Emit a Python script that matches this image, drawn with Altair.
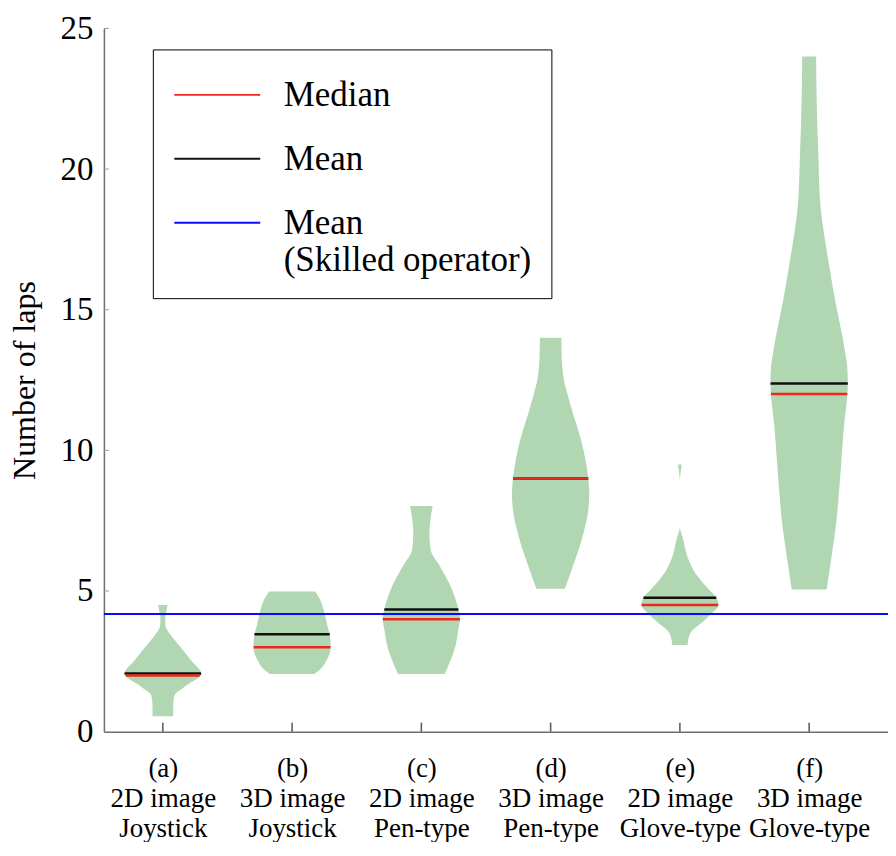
import json
import numpy as np
import pandas as pd
import altair as alt

# ---------------- data ----------------
CATEGORIES = [
    "(a)\n2D image\nJoystick",
    "(b)\n3D image\nJoystick",
    "(c)\n2D image\nPen-type",
    "(d)\n3D image\nPen-type",
    "(e)\n2D image\nGlove-type",
    "(f)\n3D image\nGlove-type",
]
MEDIANS = [2.0, 3.0, 4.0, 9.0, 4.5, 12.0]
MEANS = [2.07, 3.46, 4.34, 9.0, 4.76, 12.38]
SKILLED_MEAN = 4.18

# violin profiles: level (number of laps) and half-width (density, in category units)
A_LEVELS = [0.55, 0.9, 1.2, 1.35, 1.5, 1.7, 2.05, 2.5, 2.98, 3.45, 3.8, 4.05, 4.3, 4.5]
A_WIDTHS = [0.080, 0.080, 0.085, 0.097, 0.140, 0.201, 0.299, 0.224, 0.141, 0.058, 0.019, 0.019, 0.028, 0.037]
B_LEVELS = [2.05, 2.2, 2.52, 3.03, 3.47, 3.68, 4.27, 4.7, 4.98]
B_WIDTHS = [0.172, 0.215, 0.265, 0.299, 0.291, 0.278, 0.247, 0.216, 0.178]
C_LEVELS = [2.05, 2.4, 2.98, 3.57, 4.03, 4.35, 4.73, 5.3, 5.9, 6.48, 7.06, 7.6, 8.02]
C_WIDTHS = [0.180, 0.213, 0.260, 0.284, 0.299, 0.286, 0.263, 0.213, 0.141, 0.071, 0.062, 0.072, 0.087]
D_LEVELS = [5.08, 5.66, 6.82, 7.99, 8.5, 9.04, 10.32, 11.5, 12.66, 13.3, 14.0]
D_WIDTHS = [0.110, 0.155, 0.240, 0.294, 0.299, 0.290, 0.238, 0.161, 0.097, 0.086, 0.083]
E_LEVELS = [3.08, 3.3, 3.57, 3.92, 4.2, 4.52, 4.77, 5.08, 5.66, 6.25, 6.83, 7.3, 8.85, 9.5]
E_WIDTHS = [0.060, 0.066, 0.090, 0.180, 0.245, 0.299, 0.281, 0.219, 0.116, 0.056, 0.026, 0.0, 0.0, 0.015]
F_LEVELS = [5.05, 6.25, 7.41, 8.58, 9.75, 10.9, 12.03, 12.4, 13.0, 13.5, 14.2, 15.2, 16.4, 17.55, 18.72, 20.5, 22.5, 24.0]
F_WIDTHS = [0.135, 0.174, 0.209, 0.232, 0.251, 0.270, 0.296, 0.299, 0.294, 0.278, 0.251, 0.206, 0.161, 0.120, 0.087, 0.071, 0.058, 0.054]

PROFILES = [(A_LEVELS, A_WIDTHS), (B_LEVELS, B_WIDTHS), (C_LEVELS, C_WIDTHS),
            (D_LEVELS, D_WIDTHS), (E_LEVELS, E_WIDTHS), (F_LEVELS, F_WIDTHS)]

KINDS = ["Median", "Mean", "Mean (Skilled operator)"]
KIND_COLORS = ["#ec2a1c", "#111111", "#0a0aff"]
Y_TICKS = [0, 5, 10, 15, 20, 25]

FONT = "Liberation Serif"

# ---------------- tables ----------------
vrows = []
for i, (lv, wd) in enumerate(PROFILES):
    c = i + 1
    for l, w in zip(lv, wd):
        vrows.append({"cat": CATEGORIES[i], "level": l, "left": c - w, "right": c + w})
violin_df = pd.DataFrame(vrows)

def stat_rows(values, kind):
    rows = []
    for i, v in enumerate(values):
        lv, wd = PROFILES[i]
        w = float(np.interp(v, lv, wd))
        rows.append({"kind": kind, "level": v, "left": i + 1 - w, "right": i + 1 + w})
    return pd.DataFrame(rows)

mean_df = stat_rows(MEANS, "Mean")
median_df = stat_rows(MEDIANS, "Median")
skilled_df = pd.DataFrame({"kind": ["Mean (Skilled operator)"], "level": [SKILLED_MEAN]})
xtick_df = pd.DataFrame({"pos": list(range(1, len(CATEGORIES) + 1))})
ytick_df = pd.DataFrame({"v": Y_TICKS[1:]})

labels_js = json.dumps([c.split("\n") for c in CATEGORIES])

x_scale = alt.Scale(domain=[0.544, 6.61], nice=False, zero=False)
y_scale = alt.Scale(domain=[0, 25], nice=False, zero=True)

PLOT_TOP = 28
PLOT_H = 732 - PLOT_TOP

x_axis = alt.Axis(values=list(range(1, 7)), labelExpr=f"{labels_js}[datum.value - 1]",
                  title=None, labelFontSize=27, labelLineHeight=30, labelPadding=24,
                  labelOverlap=False, labelFlush=False, ticks=False)
y_axis = alt.Axis(values=Y_TICKS, title="Number of laps", titleFontSize=32,
                  titleFontWeight="normal", titlePadding=18, labelFontSize=33,
                  labelPadding=11, ticks=False)

legend = alt.Legend(
    title=" ", titleFontSize=1, titlePadding=7,
    orient="none", legendX=49, legendY=49 - PLOT_TOP,
    symbolType="M-4,0H4", symbolSize=462, symbolStrokeWidth=2, symbolOffset=27,
    labelFont=FONT, labelFontSize=35, labelOffset=49, labelLimit=0,
    rowPadding=28, padding=20, strokeColor="black", fillColor="white",
    labelExpr="datum.label == 'Mean (Skilled operator)' ? ['Mean', '(Skilled operator)'] : datum.label",
)
stroke_enc = alt.Stroke("kind:N", scale=alt.Scale(domain=KINDS, range=KIND_COLORS), legend=legend)

violins = alt.Chart(violin_df).mark_area(
    orient="horizontal", interpolate="monotone", color="#b0d6b2", opacity=1
).encode(
    y=alt.Y("level:Q", scale=y_scale, axis=y_axis),
    x=alt.X("left:Q", scale=x_scale, axis=x_axis),
    x2="right:Q",
    detail="cat:N",
)

skilled = alt.Chart(skilled_df).mark_rule(strokeWidth=2).encode(
    y=alt.Y("level:Q", scale=y_scale), stroke=stroke_enc
)

means = alt.Chart(mean_df).mark_rule(strokeWidth=2.5).encode(
    y=alt.Y("level:Q", scale=y_scale), x=alt.X("left:Q", scale=x_scale), x2="right:Q",
    stroke=stroke_enc,
)
medians = alt.Chart(median_df).mark_rule(strokeWidth=2.5).encode(
    y=alt.Y("level:Q", scale=y_scale), x=alt.X("left:Q", scale=x_scale), x2="right:Q",
    stroke=stroke_enc,
)

xticks = alt.Chart(xtick_df).mark_rule(color="#555555", strokeWidth=1.5).encode(
    x=alt.X("pos:Q", scale=x_scale), y=alt.value(PLOT_H), y2=alt.value(PLOT_H - 9)
)
yticks = alt.Chart(ytick_df).mark_rule(color="#9a9a9a", strokeWidth=1).encode(
    y=alt.Y("v:Q", scale=y_scale), x=alt.value(0), x2=alt.value(5)
)

chart = alt.layer(violins, skilled, means, medians, xticks, yticks).properties(
    width=785, height=PLOT_H,
    autosize=alt.AutoSizeParams(type="none"),
    padding={"left": 96, "top": PLOT_TOP - 8, "right": 0, "bottom": 110},
).configure(font=FONT).configure_view(stroke=None).configure_axis(
    domainColor="#6e6e6e", domainWidth=1.5, grid=False, labelColor="black",
    titleColor="black", labelFont=FONT, titleFont=FONT,
)

chart.save("out.html", embed_options={"renderer": "svg", "actions": False})
